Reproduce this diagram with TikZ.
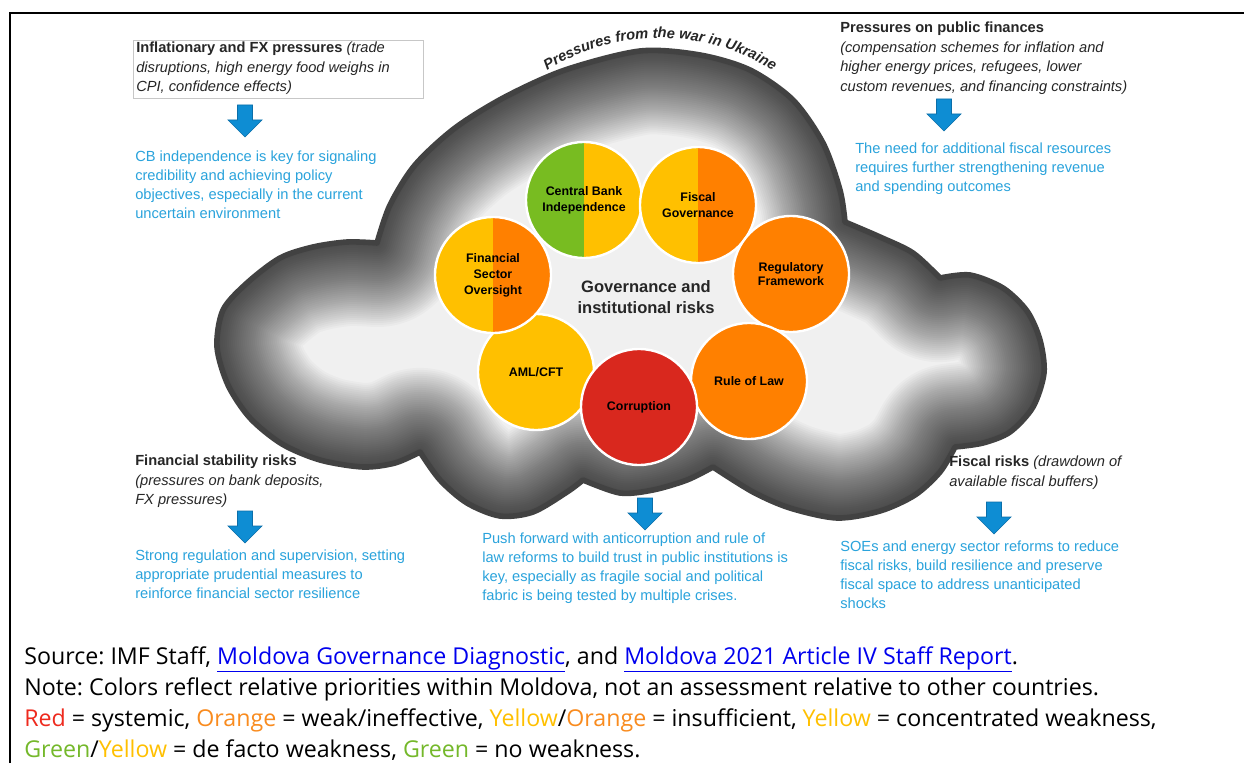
\documentclass[tikz,border=0pt]{standalone}
\usepackage{fontspec}
\setmainfont{Liberation Sans}
\newfontfamily\notefont{Open Sans}
\usetikzlibrary{decorations.text}
\frenchspacing

\definecolor{cbgreen}{HTML}{78BC21}
\definecolor{cbyellow}{HTML}{FFC000}
\definecolor{cborange}{HTML}{FF8000}
\definecolor{cbred}{HTML}{D9281E}
\definecolor{txtblue}{HTML}{2AA3DC}
\definecolor{arrowblue}{HTML}{0E8DD3}
\definecolor{arrowedge}{HTML}{0B6EA9}
\definecolor{cloudedge}{HTML}{424242}
\definecolor{cloudfill}{HTML}{F0F0F0}
\definecolor{headgray}{HTML}{262626}
\definecolor{linkblue}{HTML}{0000EE}
\definecolor{lgred}{HTML}{EE2A1E}
\definecolor{lgorange}{HTML}{F98B1E}
\definecolor{lgyellow}{HTML}{FFC000}
\definecolor{lggreen}{HTML}{74B82A}

% outline of the cloud, pixel-like units, y pointing down
\newcommand\cloudshape{%
  plot[smooth] coordinates {(377,243) (390,205) (415,165) (455,128) (505,97) (565,70) (640,51) (700,55) (750,70) (793,100) (823,143) (840,190) (845,222)}
  -- plot[smooth] coordinates {(845,222) (880,237) (913,253) (940,278)}
  -- plot[smooth] coordinates {(940,278) (970,275) (1003,288) (1027,311) (1040,340) (1044,373) (1033,407) (1010,432) (983,443) (955,447)}
  -- plot[smooth] coordinates {(955,447) (940,472) (915,495) (880,511) (837,518) (790,508) (753,492) (713,467)}
  -- plot[smooth] coordinates {(713,467) (687,480) (653,490) (620,493) (583,480)}
  -- plot[smooth] coordinates {(583,480) (567,492) (533,512) (500,516) (467,503) (440,480) (420,452)}
  -- plot[smooth] coordinates {(420,452) (395,463) (363,467) (320,460) (282,444) (250,418) (228,385) (217,347) (223,310) (247,283) (280,258) (313,247) (347,242) (377,243)}
  -- cycle}

\newcommand\lnk[1]{{\color{linkblue}\underline{#1}}}

\tikzset{
  hdr/.style={anchor=north west, inner sep=0pt, align=left, text=headgray,
    font=\fontsize{11}{14.6}\selectfont},
  advice/.style={anchor=north west, inner sep=0pt, align=left, text=txtblue,
    font=\fontsize{11}{14.2}\selectfont},
  bubble/.style={circle, draw=white, line width=1.8pt, minimum size=87pt,
    inner sep=0pt, align=center, text=black,
    font=\bfseries\fontsize{9.3}{12}\selectfont},
  halves/.style 2 args={bubble, fill=#2,
    path picture={\fill[#1] (path picture bounding box.north west) rectangle (path picture bounding box.south);}},
  notes/.style={anchor=north west, inner sep=0pt, align=left, text=black,
    font=\notefont\fontsize{17.4}{23.3}\selectfont},
  pics/downarrow/.style={code={
    \path[fill=arrowblue, draw=arrowedge, line width=0.5pt, line join=miter]
      (-7.5,0) -- (7.5,0) -- (7.5,15) -- (17,15) -- (0,32) -- (-17,15) -- (-7.5,15) -- cycle;}}
}

\begin{document}
\begin{tikzpicture}[x=0.75pt, y=-0.75pt]
\useasboundingbox (0,0) rectangle (1244,763);
\fill[white] (0,0) rectangle (1244,763);

% frame
\draw[black, line width=1.5pt] (10,763) -- (10,13) -- (1244,13);

% cloud with a soft inner shadow along its rim
\begin{scope}
  \clip \cloudshape;
  \fill[cloudfill] (200,30) rectangle (1060,530);
  \foreach \k in {1,...,42}{
    \draw[black, opacity=0.022, line width=\k*3pt, line join=round] \cloudshape;
  }
\end{scope}
\draw[cloudedge, line width=4.2pt, line join=round] \cloudshape;

% title along the top of the cloud
\path[decorate, decoration={text along path, text align=center,
    text={|\color{headgray}\bfseries\itshape\fontsize{11}{13}\selectfont|Pressures  from the war in Ukraine}}]
  (660,250) ++(-127:212) arc[start angle=-127, end angle=-53, radius=212];

% risk bubbles
\node[halves={cbgreen}{cbyellow}] (cbi) at (584,200) {Central Bank\\Independence};
\node[halves={cbyellow}{cborange}] (fg) at (698,205) {Fiscal\\Governance};
\node[bubble, fill=cborange] (rf) at (791,274) {Regulatory\\[-2pt]Framework};
\node[bubble, fill=cborange] (rol) at (749,381) {Rule of Law};
\node[bubble, fill=cbyellow] (aml) at (536,372) {AML/CFT};
\node[halves={cbyellow}{cborange}] (fso) at (493,275) {Financial\\Sector\\Oversight};
\node[bubble, fill=cbred] (cor) at (639,407) {Corruption};

\node[align=center, text=headgray, font=\bfseries\fontsize{12.4}{15.8}\selectfont] (core) at (646,297)
  {Governance and\\institutional risks};

% pressures and responses
\draw[black!22, line width=0.6pt] (133,40) rectangle (423,98);
\node[hdr] (infl) at (136,42) {\textbf{Inflationary and FX pressures} \textit{(trade}\\
  \textit{disruptions, high energy food weighs in}\\ \textit{CPI, confidence effects)}};
\pic at (245,105) {downarrow};
\node[advice] (cbtext) at (135,151) {CB independence is key for signaling\\
  credibility and achieving policy\\ objectives, especially in the current\\ uncertain environment};

\node[hdr] (pubfin) at (840,22) {\textbf{Pressures on public finances}\\
  \textit{(compensation schemes for inflation and}\\ \textit{higher energy prices, refugees, lower}\\
  \textit{custom revenues, and financing constraints)}};
\pic at (944,99) {downarrow};
\node[advice] (fistext) at (855,143) {The need for additional fiscal resources\\
  requires further strengthening revenue\\ and spending outcomes};

\node[hdr] (finstab) at (135,455) {\textbf{Financial stability risks}\\
  \textit{(pressures on bank deposits,}\\ \textit{FX pressures)}};
\pic at (245,511) {downarrow};
\node[advice] (regtext) at (135,550) {Strong regulation and supervision, setting\\
  appropriate prudential measures to\\ reinforce financial sector resilience};

\pic at (645,498) {downarrow};
\node[advice] (acrtext) at (482,533) {Push forward with anticorruption and rule of\\
  law reforms to build trust in public institutions is\\ key, especially as fragile social and political\\
  fabric is being tested by multiple crises.};

\node[hdr] (fiscrisk) at (949,456) {\textbf{Fiscal risks} \textit{(drawdown of}\\ \textit{available fiscal buffers)}};
\pic at (994,502) {downarrow};
\node[advice] (soetext) at (840,541) {SOEs and energy sector reforms to reduce\\
  fiscal risks, build resilience and preserve\\ fiscal space to address unanticipated\\ shocks};

% source and colour key
\node[notes] (src) at (24,646) {Source: IMF Staff, \lnk{Moldova Governance Diagnostic}, and \lnk{Moldova 2021 Article IV Staff Report}.\\
  Note: Colors reflect relative priorities within Moldova, not an assessment relative to other countries.\\
  {\color{lgred}Red} = systemic, {\color{lgorange}Orange} = weak/ineffective, {\color{lgyellow}Yellow}/{\color{lgorange}Orange} = insufficient, {\color{lgyellow}Yellow} = concentrated weakness,\\
  {\color{lggreen}Green}/{\color{lgyellow}Yellow} = de facto weakness, {\color{lggreen}Green} = no weakness.};
\end{tikzpicture}
\end{document}
